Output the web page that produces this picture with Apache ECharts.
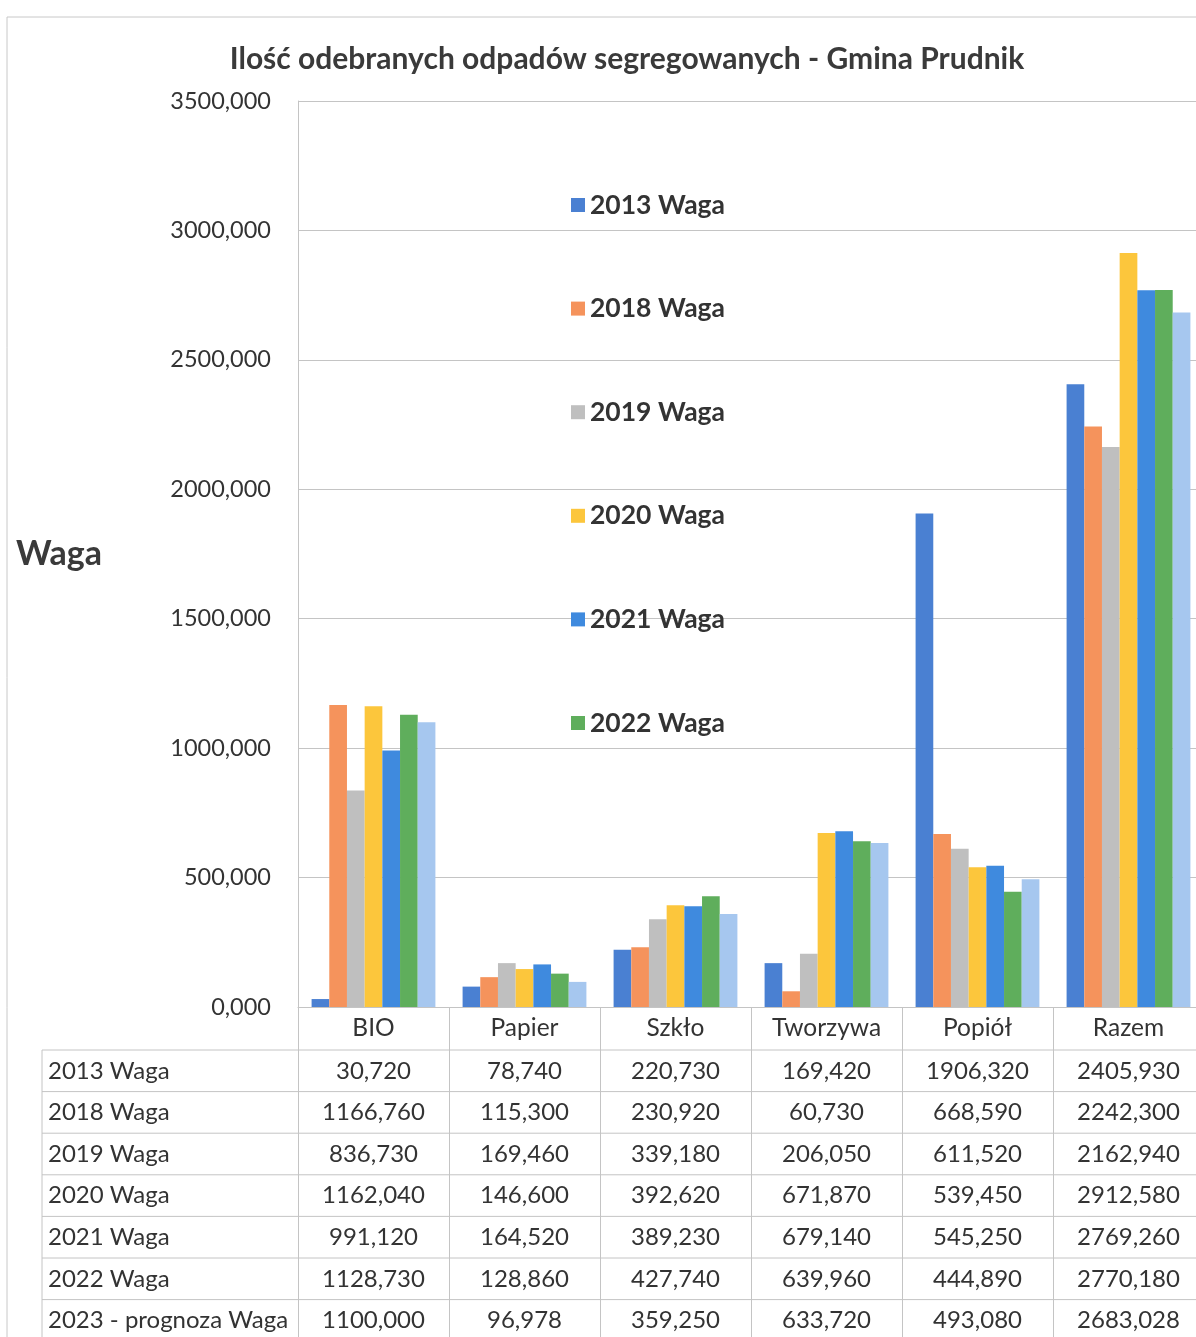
<!DOCTYPE html>
<html>
<head>
<meta charset="utf-8">
<script src="https://cdn.jsdelivr.net/npm/echarts@6/dist/echarts.min.js"></script>
<style>
  html, body { margin: 0; padding: 0; overflow: hidden; background: #ffffff; }
  #chart { width: 1210px; height: 1337px; }
</style>
</head>
<body>
<div id="chart"></div>
<script>
// Waste collected by fraction, Gmina Prudnik (values in Mg)
const categories = ['BIO', 'Papier', 'Szkło', 'Tworzywa', 'Popiół', 'Razem'];
const seriesNames = ['2013 Waga', '2018 Waga', '2019 Waga', '2020 Waga', '2021 Waga', '2022 Waga', '2023 - prognoza Waga'];
const legendNames = ['2013 Waga', '2018 Waga', '2019 Waga', '2020 Waga', '2021 Waga', '2022 Waga'];

const waga2013 = [30.720, 78.740, 220.730, 169.420, 1906.320, 2405.930];
const waga2018 = [1166.760, 115.300, 230.920, 60.730, 668.590, 2242.300];
const waga2019 = [836.730, 169.460, 339.180, 206.050, 611.520, 2162.940];
const waga2020 = [1162.040, 146.600, 392.620, 671.870, 539.450, 2912.580];
const waga2021 = [991.120, 164.520, 389.230, 679.140, 545.250, 2769.260];
const waga2022 = [1128.730, 128.860, 427.740, 639.960, 444.890, 2770.180];
const waga2023 = [1100.000, 96.978, 359.250, 633.720, 493.080, 2683.028];

const seriesValues = [waga2013, waga2018, waga2019, waga2020, waga2021, waga2022, waga2023];
const colors = ['#4a80d2', '#f5935c', '#bfbfbf', '#fcc63c', '#3f8ade', '#5fae5c', '#a6c7ef'];

const yMin = 0, yMax = 3500, yStep = 500;

const FONT = 'Lato, "Open Sans", sans-serif';
const TEXT = '#333333';
const LINE = '#c4c4c4';

const fmt = v => v.toFixed(3).replace('.', ',');

const chart = echarts.init(document.getElementById('chart'), null, { renderer: 'canvas' });

const GRID = { left: 298, top: 101, width: 906, height: 906 };
const ROW_H = 41.6;
const TABLE_TOP = 1050;

chart.setOption({
  animation: false,
  backgroundColor: '#ffffff',
  textStyle: { fontFamily: FONT },
  title: {
    text: 'Ilość odebranych odpadów segregowanych - Gmina Prudnik',
    left: 622, top: 39, textAlign: 'center',
    textStyle: { fontFamily: FONT, fontSize: 30, fontWeight: 'bold', color: '#3a3a3a' }
  },
  legend: {
    data: legendNames,
    orient: 'vertical',
    left: 566, top: 184,
    itemWidth: 14, itemHeight: 14, itemGap: 71.6,
    icon: 'rect',
    selectedMode: false,
    textStyle: { fontFamily: FONT, fontSize: 26.5, fontWeight: 'bold', color: '#333333', lineHeight: 32 }
  },
  grid: Object.assign({ outerBoundsMode: 'none', containLabel: false }, GRID),
  xAxis: {
    type: 'category',
    data: categories,
    boundaryGap: true,
    axisLine: { show: true, lineStyle: { color: LINE, width: 1 } },
    axisTick: { show: true, length: 332, lineStyle: { color: LINE, width: 1 } },
    axisLabel: { fontFamily: FONT, fontSize: 24.5, color: TEXT, margin: 9 },
    splitLine: { show: false }
  },
  yAxis: {
    type: 'value',
    min: yMin, max: yMax, interval: yStep,
    name: 'Waga',
    nameLocation: 'middle',
    nameRotate: 0,
    nameGap: 196,
    nameTextStyle: { fontFamily: FONT, fontSize: 34, fontWeight: 'bold', color: '#3a3a3a', padding: [12, 0, 0, 0] },
    axisLine: { show: true, lineStyle: { color: LINE, width: 1 } },
    axisTick: { show: false },
    axisLabel: { fontFamily: FONT, fontSize: 23.5, color: TEXT, margin: 27, formatter: v => fmt(v) },
    splitLine: { show: true, lineStyle: { color: LINE, width: 1 } }
  },
  series: seriesNames.map((name, i) => ({
    name: name,
    type: 'bar',
    data: seriesValues[i],
    barGap: '0%',
    barCategoryGap: '18%',
    itemStyle: { color: colors[i] },
    emphasis: { disabled: true }
  }))
});

// Data table under the axis, columns aligned with the category axis
const graphics = [];
// outer frame of the chart area
graphics.push({
  type: 'rect', silent: true,
  shape: { x: 7, y: 17, width: 1300, height: 1400 },
  style: { fill: null, stroke: '#c8c8c8', lineWidth: 1 }
});
// table left border
graphics.push({
  type: 'line', silent: true,
  shape: { x1: 42, y1: TABLE_TOP, x2: 42, y2: 1337 },
  style: { stroke: LINE, lineWidth: 1 }
});
for (let r = 0; r < seriesNames.length; r++) {
  const yLine = TABLE_TOP + r * ROW_H;
  graphics.push({
    type: 'line', silent: true,
    shape: { x1: 42, y1: yLine, x2: 1210, y2: yLine },
    style: { stroke: LINE, lineWidth: 1 }
  });
  const yc = yLine + ROW_H / 2;
  graphics.push({
    type: 'text', silent: true,
    x: 48, y: yc,
    style: { text: seriesNames[r], fontFamily: FONT, fontSize: 24, fill: TEXT, align: 'left', verticalAlign: 'middle' }
  });
  seriesValues[r].forEach((v, c) => {
    const px = chart.convertToPixel({ xAxisIndex: 0 }, categories[c]);
    graphics.push({
      type: 'text', silent: true,
      x: px, y: yc,
      style: { text: fmt(v), fontFamily: FONT, fontSize: 24, fill: TEXT, align: 'center', verticalAlign: 'middle' }
    });
  });
}
chart.setOption({ graphic: graphics });
</script>
</body>
</html>
